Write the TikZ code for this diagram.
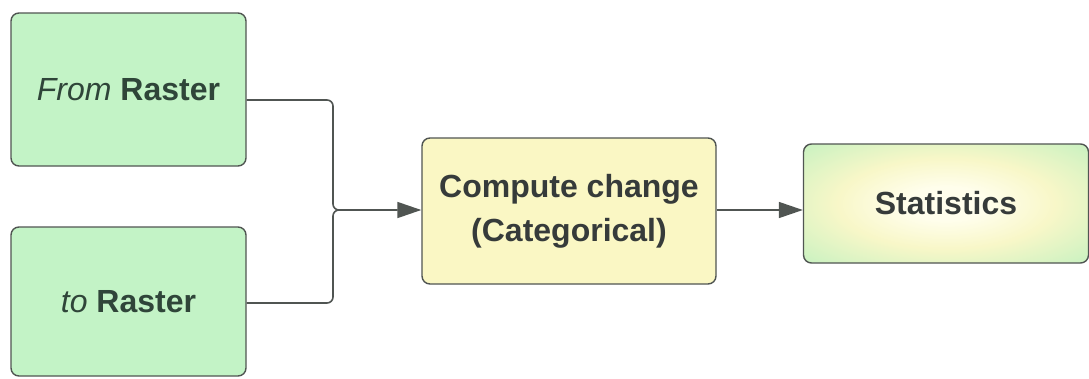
\documentclass[tikz,border=0pt]{standalone}
\usepackage{fontspec}
\setmainfont{Liberation Sans}
\usetikzlibrary{arrows.meta}
\definecolor{boxgreen}{HTML}{C3F3C6}
\definecolor{boxyellow}{HTML}{FAF7C4}
\definecolor{edgegray}{HTML}{505552}
\definecolor{txtgreen}{HTML}{2F4539}
\definecolor{txtgray}{HTML}{363B3A}
\definecolor{statin}{HTML}{FFFEEC}
\definecolor{statmid}{HTML}{F8F7C8}
\definecolor{statout}{HTML}{C4F1C0}
% pale yellow centre fading to green towards the edges
\pgfdeclareradialshading{statshade}{\pgfpoint{0bp}{0bp}}{%
  color(0bp)=(statin); color(7bp)=(statin); color(19bp)=(statmid);
  color(37bp)=(statout); color(50bp)=(statout)}
\tikzset{
  x=1pt, y=-1pt,
  box/.style={draw=edgegray, line width=1.4pt, rounded corners=8pt,
              align=center, inner sep=0pt,
              font=\fontsize{32}{44}\selectfont},
  greenbox/.style={box, fill=boxgreen, text=txtgreen},
  yellowbox/.style={box, fill=boxyellow, text=txtgray},
  statbox/.style={box, shading=statshade, text=txtgray},
  link/.style={draw=edgegray, line width=1.6pt, rounded corners=6pt},
  flow/.style={link, -{Triangle[length=24pt,width=16pt]}}
}
\begin{document}
\begin{tikzpicture}
\useasboundingbox (0,0) rectangle (1089,378);
\fill[white] (0,0) rectangle (1089,378);

\node[greenbox, minimum width=235, minimum height=153] (from) at (128.5,89.5)
  {\textit{From} \textbf{Raster}};
\node[greenbox, minimum width=235, minimum height=149] (to) at (128.5,301.5)
  {\textit{to} \textbf{Raster}};
\node[yellowbox, minimum width=294, minimum height=146] (comp) at (569,211)
  {\textbf{Compute change}\\\textbf{(Categorical)}};
\node[statbox, minimum width=285, minimum height=119] (stat) at (946,203.5)
  {\textbf{Statistics}};

\coordinate (merge) at (333,210);
\draw[flow] (from.east |- 0,100) -| (merge) -- (comp.west |- merge);
\draw[link] (to.east |- 0,303) -| (merge) -- ([xshift=30pt]merge);
\draw[flow] (comp.east |- 0,210) -- (stat.west |- 0,210);
\end{tikzpicture}
\end{document}
